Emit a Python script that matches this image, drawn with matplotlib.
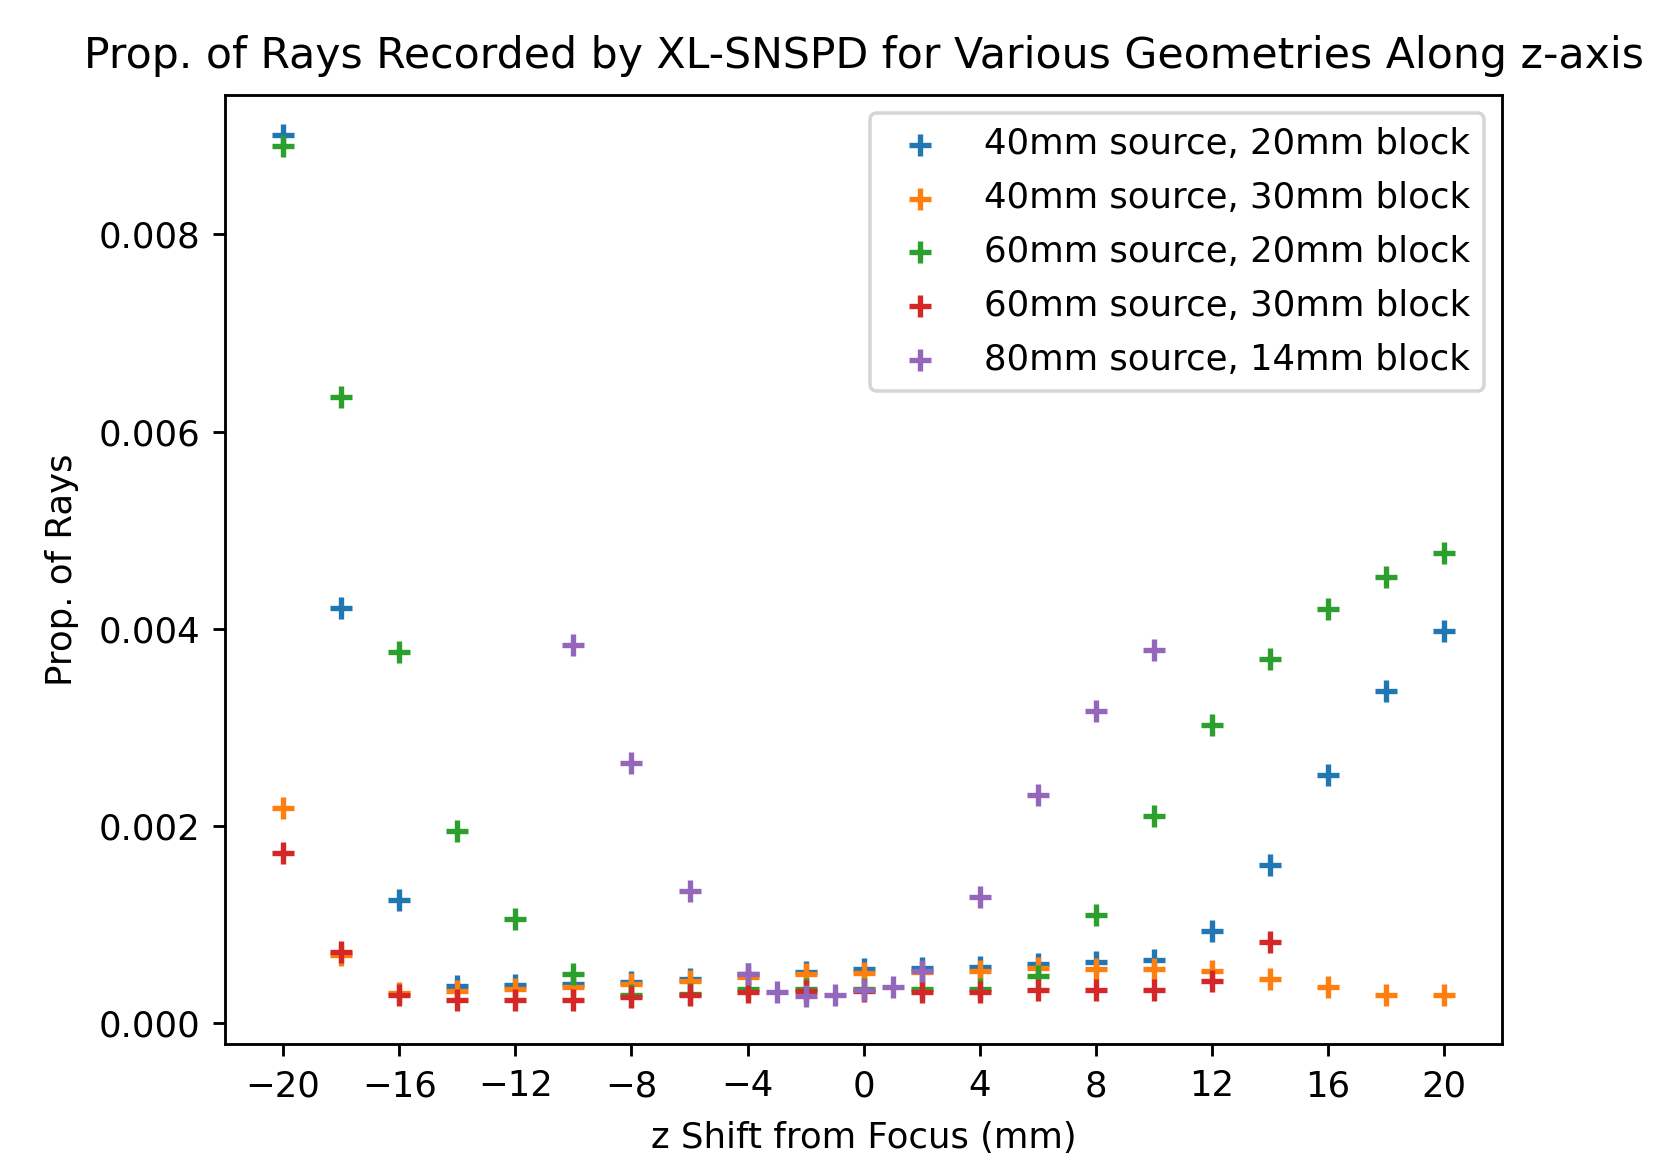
import matplotlib
matplotlib.use("Agg")
import matplotlib.pyplot as plt

x_full = [-20, -18, -16, -14, -12, -10, -8, -6, -4, -2, 0, 2, 4, 6, 8, 10, 12, 14, 16, 18, 20]
blue_40_20 = [0.00901, 0.00421, 0.00125, 0.000375, 0.000385, 0.00040, 0.00042, 0.00045, 0.00050, 0.00052,
              0.000555, 0.00056, 0.00057, 0.000605, 0.00062, 0.00064, 0.00094, 0.00161, 0.00252, 0.00337, 0.00398]
orange_40_30 = [0.00218, 0.00069, 0.00031, 0.00033, 0.00035, 0.00037, 0.00040, 0.00043, 0.00047, 0.00050,
                0.00051, 0.00052, 0.00053, 0.000565, 0.000555, 0.000555, 0.00053, 0.00045, 0.00037, 0.00029, 0.00029]
green_60_20 = [0.00890, 0.00635, 0.00376, 0.00195, 0.00106, 0.00050, 0.00029, 0.00030, 0.00035, 0.00035,
               0.00035, 0.00035, 0.00035, 0.00048, 0.00110, 0.00210, 0.00302, 0.00369, 0.00420, 0.00453, 0.00477]
x_red = [-20, -18, -16, -14, -12, -10, -8, -6, -4, -2, 0, 2, 4, 6, 8, 10, 12, 14]
red_60_30 = [0.00173, 0.00072, 0.00029, 0.00024, 0.00024, 0.00024, 0.00027, 0.00029, 0.00032, 0.00033,
             0.00033, 0.00032, 0.00032, 0.00034, 0.00034, 0.00034, 0.00043, 0.00082]
x_purple = [-10, -8, -6, -4, -3, -2, -1, 0, 1, 2, 4, 6, 8, 10]
purple_80_14 = [0.00384, 0.00264, 0.00134, 0.00050, 0.00032, 0.00028, 0.00029, 0.000335, 0.00037, 0.00053,
                0.00128, 0.00231, 0.00317, 0.00379]

labels = ["40mm source, 20mm block", "40mm source, 30mm block", "60mm source, 20mm block",
          "60mm source, 30mm block", "80mm source, 14mm block"]
xticks = list(range(-20, 21, 4))

dpi = 256
fig = plt.figure(figsize=(1671 / dpi, 1160 / dpi), dpi=dpi)
ax = fig.add_axes([0.1347, 0.0997, 0.7643, 0.8184])

ax.scatter(x_full, blue_40_20, marker="+", label=labels[0])
ax.scatter(x_full, orange_40_30, marker="+", label=labels[1])
ax.scatter(x_full, green_60_20, marker="+", label=labels[2])
ax.scatter(x_red, red_60_30, marker="+", label=labels[3])
ax.scatter(x_purple, purple_80_14, marker="+", label=labels[4])

ax.set_xticks(xticks)
ax.set_ylim(-0.000213, 0.009412)
ax.set_title("Prop. of Rays Recorded by XL-SNSPD for Various Geometries Along z-axis", pad=7.5)
ax.set_xlabel("z Shift from Focus (mm)", labelpad=5)
ax.set_ylabel("Prop. of Rays", labelpad=5.5)
ax.legend(loc="upper right", labelspacing=0.56)

fig.savefig("out.png", dpi=dpi)
